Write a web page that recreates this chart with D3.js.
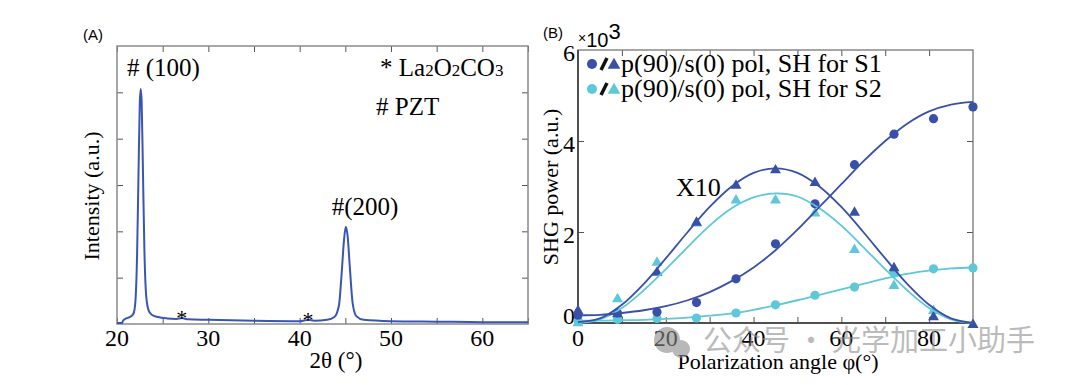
<!DOCTYPE html>
<html>
<head>
<meta charset="utf-8">
<script src="https://cdn.jsdelivr.net/npm/d3@7"></script>
<style>
  body { margin: 0; background: #fff; }
</style>
</head>
<body>
<svg width="1080" height="385"></svg>
<script>
// ---- panel A data: XRD pattern, [2theta, intensity]
const xrd = [
  [20.0, 0.02], [20.55, 0.02], [20.65, 0.07], [21.0, 0.12], [21.5, 0.16], [21.8, 0.22],
  [22.0, 0.45], [22.2, 1.5], [22.35, 3.2], [22.5, 4.8], [22.6, 5.07], [22.7, 4.8],
  [22.85, 3.2], [23.0, 1.6], [23.2, 0.6], [23.45, 0.3], [23.8, 0.2], [24.5, 0.15],
  [25.5, 0.12], [26.5, 0.11], [27.1, 0.13], [27.8, 0.1], [30, 0.09], [35, 0.07],
  [40, 0.06], [40.6, 0.08], [41.0, 0.09], [41.6, 0.07], [43.0, 0.09], [43.8, 0.15],
  [44.3, 0.4], [44.6, 1.1], [44.85, 1.8], [45.05, 2.1], [45.25, 1.9], [45.5, 1.2],
  [45.8, 0.45], [46.2, 0.17], [47, 0.09], [50, 0.06], [55, 0.05], [60, 0.04], [65, 0.04]
];
const xrdTicks = [20, 30, 40, 50, 60];
const peakLabels = [
  { x: 21.1, y: 5.35, text: "# (100)" },
  { x: 43.5, y: 2.35, text: "#(200)" }
];
const starPos = [[27.1, 0.13], [40.9, 0.09]];

// ---- panel B data: polarization angle (deg) and SHG power (x10^3)
const angles = [0, 9, 18, 27, 36, 45, 54, 63, 72, 81, 90];
const s1Circle = [0.17, 0.22, 0.24, 0.45, 0.97, 1.74, 2.62, 3.48, 4.15, 4.49, 4.75];
const s1Tri    = [0.29, 0.22, 1.13, 2.23, 3.04, 3.38, 3.10, 2.45, 1.23, 0.15, -0.02];
const s2Circle = [0.06, 0.08, 0.10, 0.11, 0.22, 0.40, 0.61, 0.79, 1.10, 1.19, 1.21];
const s2Tri    = [0.02, 0.55, 1.35, 2.21, 2.72, 2.72, 2.43, 1.63, 0.84, 0.29, -0.02];

// fitted curves, read every 5 degrees
const fitAngles = [0, 5, 10, 15, 20, 25, 30, 35, 40, 45, 50, 55, 60, 65, 70, 75, 80, 85, 90];
const s1CircleFit = [0.17, 0.18, 0.22, 0.28, 0.37, 0.5, 0.68, 0.92, 1.22, 1.6, 2.05, 2.55, 3.05, 3.55, 4.0, 4.38, 4.65, 4.8, 4.86];
const s1TriFit    = [0.02, 0.1, 0.4, 0.86, 1.42, 2.0, 2.55, 3.0, 3.3, 3.4, 3.3, 3.0, 2.55, 2.0, 1.42, 0.86, 0.4, 0.1, 0.0];
const s2CircleFit = [0.05, 0.05, 0.06, 0.07, 0.09, 0.12, 0.16, 0.21, 0.29, 0.39, 0.5, 0.62, 0.74, 0.86, 0.98, 1.08, 1.15, 1.2, 1.22];
const s2TriFit    = [0.0, 0.08, 0.33, 0.72, 1.18, 1.67, 2.14, 2.52, 2.76, 2.85, 2.78, 2.52, 2.14, 1.67, 1.18, 0.72, 0.33, 0.08, 0.0];

const bXTicks = [0, 20, 40, 60, 80];
const bYTicks = [0, 2, 4, 6];
const legendRows = ["p(90)/s(0) pol, SH for S1", "p(90)/s(0) pol, SH for S2"];

const dark = "#3950a8", light = "#5ec8d8", lineA = "#3a55b4";
const serif = "'Liberation Serif', 'Times New Roman', serif";
const sans = "'Liberation Sans', Arial, sans-serif";

const svg = d3.select("svg");

// ---------------- panel A ----------------
const xA = d3.scaleLinear().domain([20, 65]).range([117, 528]);
const yA = d3.scaleLinear().domain([0, 6]).range([324, 46]);
const gA = svg.append("g");

// inward ticks on all four sides
gA.append("g").attr("transform", "translate(0,324)")
  .call(d3.axisBottom(xA).tickValues(d3.range(20, 66, 5)).tickSizeInner(-6).tickSizeOuter(0).tickFormat(""));
gA.append("g").attr("transform", "translate(0,46)")
  .call(d3.axisTop(xA).tickValues(d3.range(20, 66, 5)).tickSizeInner(-6).tickSizeOuter(0).tickFormat(""));
gA.append("g").attr("transform", "translate(117,0)")
  .call(d3.axisLeft(yA).tickValues(d3.range(1, 6)).tickSizeInner(-6).tickSizeOuter(0).tickFormat(""));
gA.append("g").attr("transform", "translate(528,0)")
  .call(d3.axisRight(yA).tickValues(d3.range(1, 6)).tickSizeInner(-6).tickSizeOuter(0).tickFormat(""));
gA.selectAll(".domain").remove();
gA.selectAll(".tick line").attr("stroke", "#555");

gA.append("rect").attr("x", 117).attr("y", 46).attr("width", 411).attr("height", 278)
  .attr("fill", "none").attr("stroke", "#8a8a8a").attr("stroke-width", 1.5);

gA.selectAll(".xlab").data(xrdTicks).join("text")
  .attr("x", d => xA(d)).attr("y", 346).attr("text-anchor", "middle")
  .style("font-family", serif).attr("font-size", 24).text(d => d);

gA.append("path").datum(xrd)
  .attr("fill", "none").attr("stroke", lineA).attr("stroke-width", 2)
  .attr("d", d3.line().x(d => xA(d[0])).y(d => yA(d[1])).curve(d3.curveMonotoneX));

gA.selectAll(".pk").data(peakLabels).join("text")
  .attr("x", d => xA(d.x)).attr("y", d => yA(d.y)).style("font-family", serif)
  .attr("font-size", 25).text(d => d.text);

gA.selectAll(".star").data(starPos).join("text")
  .attr("x", d => xA(d[0])).attr("y", d => yA(d[1]) + 7).attr("text-anchor", "middle")
  .style("font-family", serif).attr("font-size", 22).text("*");

const la = gA.append("text").attr("x", 380).attr("y", 76).style("font-family", serif).attr("font-size", 25);
la.append("tspan").text("* La");
la.append("tspan").attr("font-size", 17).text("2");
la.append("tspan").text("O");
la.append("tspan").attr("font-size", 17).text("2");
la.append("tspan").text("CO");
la.append("tspan").attr("font-size", 17).text("3");
gA.append("text").attr("x", 376).attr("y", 115).style("font-family", serif).attr("font-size", 25).text("# PZT");

gA.append("text").attr("transform", "translate(99,196) rotate(-90)")
  .attr("text-anchor", "middle").style("font-family", serif).attr("font-size", 22).text("Intensity (a.u.)");
gA.append("text").attr("x", 336).attr("y", 368).attr("text-anchor", "middle")
  .style("font-family", serif).attr("font-size", 23).text("2θ (°)");
gA.append("text").attr("x", 93).attr("y", 40).attr("text-anchor", "middle")
  .style("font-family", sans).attr("font-size", 15).text("(A)");

// ---------------- panel B ----------------
const xB = d3.scaleLinear().domain([0, 90]).range([578, 973]);
const yB = d3.scaleLinear().domain([0, 6]).range([323, 50]);
const gB = svg.append("g");

gB.append("g").attr("transform", "translate(0,323)")
  .call(d3.axisBottom(xB).tickValues(d3.range(10, 90, 10)).tickSizeInner(-6).tickSizeOuter(0).tickFormat(""));
gB.append("g").attr("transform", "translate(0,50)")
  .call(d3.axisTop(xB).tickValues(d3.range(10, 90, 10)).tickSizeInner(-6).tickSizeOuter(0).tickFormat(""));
gB.append("g").attr("transform", "translate(578,0)")
  .call(d3.axisLeft(yB).tickValues([2, 4]).tickSizeInner(-6).tickSizeOuter(0).tickFormat(""));
gB.append("g").attr("transform", "translate(973,0)")
  .call(d3.axisRight(yB).tickValues([2, 4]).tickSizeInner(-6).tickSizeOuter(0).tickFormat(""));
gB.selectAll(".domain").remove();
gB.selectAll(".tick line").attr("stroke", "#555");

gB.append("rect").attr("x", 578).attr("y", 50).attr("width", 395).attr("height", 273)
  .attr("fill", "none").attr("stroke", "#777").attr("stroke-width", 1.3);
gB.append("line").attr("x1", 578).attr("x2", 578).attr("y1", 50).attr("y2", 323)
  .attr("stroke", "#333").attr("stroke-width", 1.5);
gB.append("line").attr("x1", 578).attr("x2", 973).attr("y1", 323).attr("y2", 323)
  .attr("stroke", "#333").attr("stroke-width", 1.5);

gB.selectAll(".xlab").data(bXTicks).join("text")
  .attr("x", d => xB(d)).attr("y", 346).attr("text-anchor", "middle")
  .style("font-family", serif).attr("font-size", 24).text(d => d);
gB.selectAll(".ylab").data(bYTicks).join("text")
  .attr("x", 575).attr("y", d => d === 0 ? yB(d) + 1 : yB(d) + 11).attr("text-anchor", "end")
  .style("font-family", serif).attr("font-size", 24).text(d => d);

const sx = gB.append("text").attr("x", 578).attr("y", 47)
  .style("font-family", sans).attr("font-size", 20);
sx.append("tspan").attr("font-size", 14).attr("dy", -4).text("×");
sx.append("tspan").attr("dy", 4).text("10");
sx.append("tspan").attr("font-size", 22).attr("dy", -8).text("3");

const fitLine = d3.line().x((d, i) => xB(fitAngles[i])).y(d => yB(d)).curve(d3.curveCatmullRom.alpha(0.5));
gB.append("clipPath").attr("id", "clipB").append("rect")
  .attr("x", 578).attr("y", 50).attr("width", 398).attr("height", 276);

const triangle = d3.symbol().type(d3.symbolTriangle).size(52);

function drawCircles(vals, color) {
  gB.append("g").selectAll("circle").data(vals).join("circle")
    .attr("cx", (d, i) => xB(angles[i])).attr("cy", d => yB(d)).attr("r", 4.6).attr("fill", color);
}
function drawTriangles(vals, color) {
  gB.append("g").selectAll("path").data(vals).join("path")
    .attr("transform", (d, i) => `translate(${xB(angles[i])},${yB(d) + 1})`)
    .attr("d", triangle).attr("fill", color);
}
drawCircles(s2Circle, light);
drawTriangles(s2Tri, light);
drawCircles(s1Circle, dark);
drawTriangles(s1Tri, dark);

[[s2CircleFit, light], [s2TriFit, light], [s1CircleFit, dark], [s1TriFit, dark]].forEach(([vals, c]) => {
  gB.append("path").datum(vals).attr("clip-path", "url(#clipB)")
    .attr("fill", "none").attr("stroke", c).attr("stroke-width", 1.8).attr("d", fitLine);
});

gB.append("text").attr("x", 676).attr("y", 196).style("font-family", serif).attr("font-size", 26).text("X10");

// legend
const leg = gB.append("g");
legendRows.forEach((t, i) => {
  const c = i === 0 ? dark : light, y = 64 + i * 25;
  leg.append("circle").attr("cx", 592).attr("cy", y).attr("r", 5).attr("fill", c);
  leg.append("line").attr("x1", 601).attr("x2", 607).attr("y1", y + 6).attr("y2", y - 6)
    .attr("stroke", "#111").attr("stroke-width", 3.5);
  leg.append("path").attr("transform", `translate(614,${y + 1})`)
    .attr("d", d3.symbol().type(d3.symbolTriangle).size(70)).attr("fill", c);
  leg.append("text").attr("x", 621).attr("y", y + 8).style("font-family", serif)
    .attr("font-size", 26).text(t);
});

gB.append("text").attr("transform", "translate(558,187) rotate(-90)")
  .attr("text-anchor", "middle").style("font-family", serif).attr("font-size", 22).text("SHG power (a.u.)");
gB.append("text").attr("x", 778).attr("y", 369).attr("text-anchor", "middle")
  .style("font-family", serif).attr("font-size", 22).text("Polarization angle φ(°)");
gB.append("text").attr("x", 553).attr("y", 38).attr("text-anchor", "middle")
  .style("font-family", sans).attr("font-size", 15).text("(B)");

// watermark
const wm = svg.append("g").attr("opacity", 0.6);
wm.append("circle").attr("cx", 667).attr("cy", 340).attr("r", 13).attr("fill", "#8a8a8a");
wm.append("circle").attr("cx", 681).attr("cy", 349).attr("r", 9).attr("fill", "#8a8a8a");
wm.append("text").attr("x", 703).attr("y", 351)
  .style("font-family", "'Noto Sans CJK SC', sans-serif").attr("font-size", 29)
  .attr("fill", "#8f8f8f").text("公众号 · 光学加工小助手");
</script>
</body>
</html>
